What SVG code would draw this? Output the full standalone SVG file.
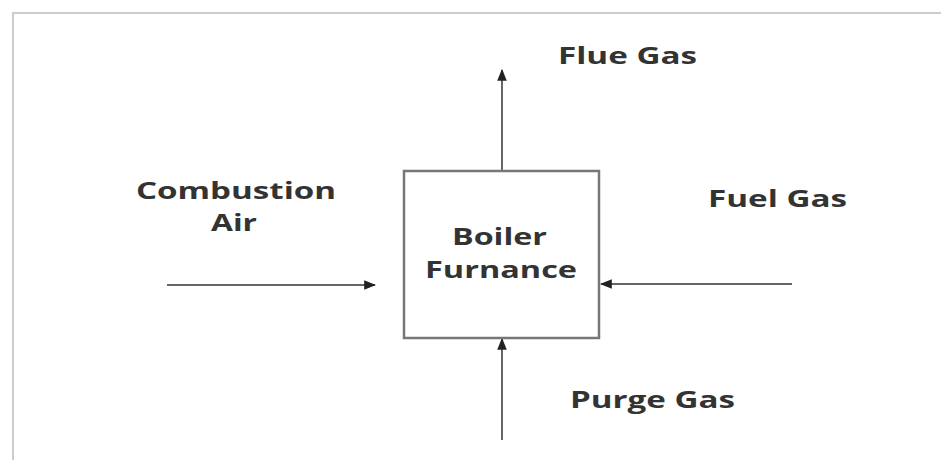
<svg xmlns="http://www.w3.org/2000/svg" width="941" height="462" viewBox="0 0 941 462">
<defs>
<style>
.lbl{font-family:"Open Sans","Liberation Sans",sans-serif;font-weight:bold;font-size:24px;fill:#333}
.ln{stroke:#666;stroke-width:2;fill:none}
.box{stroke:#777;stroke-width:2.5;fill:#fff}
</style>
<marker id="ah" viewBox="0 0 10 10" refX="9" refY="5" markerWidth="6" markerHeight="6" markerUnits="strokeWidth" orient="auto">
<path d="M0,1 L10,5 L0,9 z" fill="#222"/>
</marker>
</defs>
<rect x="0" y="0" width="941" height="462" fill="#fff"/>
<path d="M13,460 L13,13 L941,13" stroke="#ccc" stroke-width="2" fill="none"/>
<g id="connectors">
<line class="ln" x1="502" y1="171" x2="502" y2="70" marker-end="url(#ah)"/>
<line class="ln" x1="167" y1="285" x2="375" y2="285" marker-end="url(#ah)"/>
<line class="ln" x1="792" y1="284" x2="601" y2="284" marker-end="url(#ah)"/>
<line class="ln" x1="502" y1="440" x2="502" y2="339" marker-end="url(#ah)"/>
</g>
<g id="boiler">
<rect class="box" x="404" y="171" width="195" height="167"/>
<text class="lbl" x="452" y="245" textLength="95" lengthAdjust="spacingAndGlyphs">Boiler</text>
<text class="lbl" x="425" y="278" textLength="152" lengthAdjust="spacingAndGlyphs">Furnance</text>
</g>
<g id="flue-gas"><text class="lbl" x="558" y="64" textLength="139" lengthAdjust="spacingAndGlyphs">Flue Gas</text></g>
<g id="combustion-air">
<text class="lbl" x="136" y="199" textLength="200" lengthAdjust="spacingAndGlyphs">Combustion</text>
<text class="lbl" x="211" y="231" textLength="46" lengthAdjust="spacingAndGlyphs">Air</text>
</g>
<g id="fuel-gas"><text class="lbl" x="708" y="207" textLength="139" lengthAdjust="spacingAndGlyphs">Fuel Gas</text></g>
<g id="purge-gas"><text class="lbl" x="570" y="408" textLength="165" lengthAdjust="spacingAndGlyphs">Purge Gas</text></g>
</svg>
